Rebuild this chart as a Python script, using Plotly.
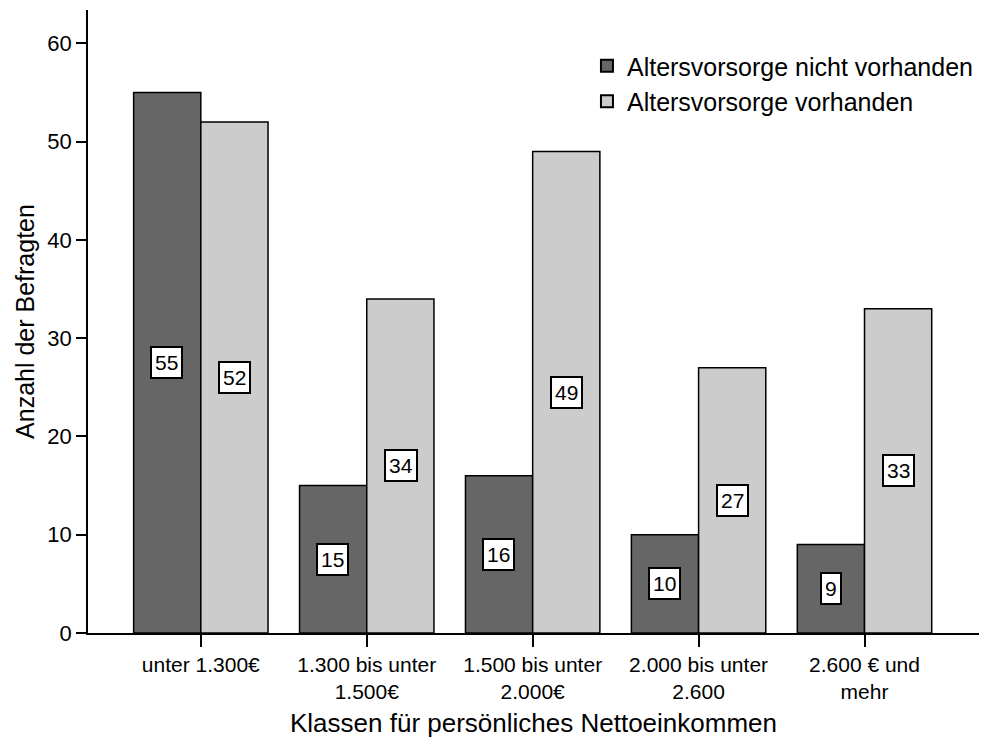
import plotly.graph_objects as go

categories = ["unter 1.300€", "1.300 bis unter<br>1.500€", "1.500 bis unter<br>2.000€",
              "2.000 bis unter<br>2.600", "2.600 € und<br>mehr"]
series_names = ["Altersvorsorge nicht vorhanden", "Altersvorsorge vorhanden"]
nicht_vorhanden = [55, 15, 16, 10, 9]
vorhanden = [52, 34, 49, 27, 33]
y_ticks = [0, 10, 20, 30, 40, 50, 60]

colors = ["#666666", "#cccccc"]
FONT = "Liberation Sans, Arial, sans-serif"

fig = go.Figure()
for name, vals, col in zip(series_names, [nicht_vorhanden, vorhanden], colors):
    fig.add_trace(go.Bar(x=categories, y=vals, name=name,
                         marker=dict(color=col, line=dict(color="black", width=1.5))))

shift = 34
for vals, sgn in [(nicht_vorhanden, -1), (vorhanden, 1)]:
    for c, v in zip(categories, vals):
        fig.add_annotation(x=c, y=v / 2, xshift=sgn * shift, text=str(v), showarrow=False,
                           font=dict(size=21, color="black", family=FONT),
                           bgcolor="white", bordercolor="black", borderwidth=2, borderpad=3)

fig.update_layout(
    width=999, height=740,
    margin=dict(l=88, r=20, t=10, b=107),
    paper_bgcolor="white", plot_bgcolor="white",
    barmode="group", bargap=0.19, bargroupgap=0,
    font=dict(family=FONT, color="black"),
    legend=dict(x=0.56, y=0.947, xanchor="left", yanchor="top",
                font=dict(size=25, family=FONT), bgcolor="rgba(0,0,0,0)",
                tracegroupgap=0, itemsizing="constant"),
    xaxis=dict(range=[-0.68, 4.69], showline=True, linecolor="black", linewidth=1.5,
               ticks="outside", ticklen=12, tickwidth=2, tickcolor="black", automargin=False,
               tickfont=dict(size=21), title=dict(text="Klassen für persönliches Nettoeinkommen",
                                                  font=dict(size=26), standoff=12)),
    yaxis=dict(range=[0, 63.4], showline=True, linecolor="black", linewidth=1.5, automargin=False,
               tickvals=y_ticks, ticks="outside", ticklen=10, tickwidth=1.5, tickcolor="black",
               tickfont=dict(size=22), showgrid=False, zeroline=False,
               title=dict(text="Anzahl der Befragten", font=dict(size=25), standoff=6)),
)

fig.write_html("out.html", config={"displayModeBar": False},
               post_script="document.body.style.margin='0';")
